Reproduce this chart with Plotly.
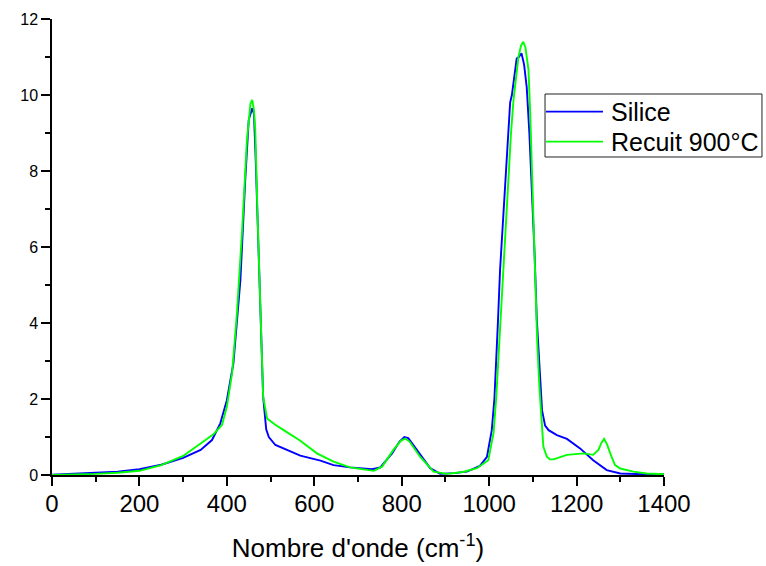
import plotly.graph_objects as go

# Silice (blue)
silice_x = [0, 50, 100, 150, 200, 250, 300, 340, 366, 385, 400, 415, 431, 442, 450, 458, 462,
            466, 470, 477, 483, 490, 496, 511, 568, 614, 644, 682, 732, 751, 778, 795, 806, 815,
            835, 865, 888, 920, 949, 979, 995, 1006, 1012, 1016, 1020, 1025, 1030, 1036, 1041,
            1048, 1052, 1058, 1063, 1068, 1074, 1080, 1086, 1092, 1098, 1104, 1109, 1115, 1121,
            1128, 1136, 1155, 1178, 1208, 1238, 1269, 1300, 1350, 1400]
silice_y = [0.01, 0.03, 0.06, 0.09, 0.15, 0.27, 0.45, 0.66, 0.92, 1.36, 1.97, 2.94, 5.13, 7.76, 9.34, 9.65, 9.5,
            8.3, 6.9, 4.25, 2.06, 1.2, 1.0, 0.79, 0.51, 0.38, 0.26, 0.20, 0.15, 0.20, 0.57, 0.88, 1.0, 0.97,
            0.66, 0.18, 0.03, 0.05, 0.09, 0.24, 0.48, 1.18, 2.0, 2.9, 4.0, 5.4, 6.3, 7.6, 8.5,
            9.8, 10.0, 10.5, 10.96, 11.0, 11.1, 10.8, 10.2, 9.0, 7.5, 5.8, 4.1, 2.8, 1.7,
            1.3, 1.18, 1.05, 0.95, 0.70, 0.39, 0.13, 0.04, 0.02, 0.02]

# Recuit 900°C (green)
recuit_x = [0, 50, 100, 150, 200, 250, 300, 340, 370, 389, 400, 412, 423, 435, 446, 454, 458, 462,
            465, 470, 477, 483, 492, 510, 530, 568, 606, 644, 682, 736, 755, 781, 798, 808, 818,
            842, 873, 903, 940, 972, 998, 1010, 1016, 1021, 1026, 1031, 1037, 1044, 1050, 1056,
            1062, 1067, 1073, 1078, 1083, 1090, 1094, 1098, 1101, 1105, 1110, 1115, 1120, 1124,
            1132, 1139, 1147, 1178, 1216, 1238, 1250, 1257, 1263, 1270, 1277, 1288, 1300, 1330,
            1360, 1400]
recuit_y = [0.0, 0.01, 0.03, 0.06, 0.11, 0.26, 0.5, 0.83, 1.08, 1.32, 1.8, 2.68, 4.25, 6.45, 8.82, 9.77, 9.87, 9.6,
            9.08, 6.9, 4.25, 2.06, 1.49, 1.33, 1.18, 0.90, 0.57, 0.35, 0.20, 0.11, 0.22, 0.66, 0.9, 0.96, 0.88,
            0.48, 0.09, 0.03, 0.08, 0.18, 0.39, 1.1, 2.0, 3.0, 4.2, 5.2, 6.5, 7.9, 9.0, 9.9,
            10.6, 11.0, 11.3, 11.4, 11.25, 10.66, 9.5, 8.0, 6.6, 4.96, 3.5, 2.32, 1.3, 0.75,
            0.48, 0.41, 0.41, 0.53, 0.57, 0.53, 0.66, 0.85, 0.95, 0.8, 0.57, 0.26, 0.17, 0.09,
            0.04, 0.02]

series_names = ["Silice", "Recuit 900°C"]
series_colors = ["#0000FF", "#00FF00"]

x_ticks = [0, 200, 400, 600, 800, 1000, 1200, 1400]
y_ticks = [0, 2, 4, 6, 8, 10, 12]

FONT = "Liberation Sans, Arial, sans-serif"

fig = go.Figure()
for xs, ys, name, color in zip([silice_x, recuit_x], [silice_y, recuit_y], series_names, series_colors):
    fig.add_trace(go.Scatter(x=xs, y=ys, mode="lines", name=name, showlegend=False,
                             line=dict(color=color, width=1.9)))

# Legend box drawn in paper coordinates (Origin-style legend)
fig.add_shape(type="rect", xref="paper", yref="paper",
              x0=0.8056, x1=1.1601, y0=0.6974, y1=0.8355,
              line=dict(color="#222222", width=1), fillcolor="white", layer="above")
row_y = [0.7967, 0.7309]
for ry, name, color in zip(row_y, series_names, series_colors):
    fig.add_shape(type="line", xref="paper", yref="paper",
                  x0=0.8072, x1=0.9003, y0=ry, y1=ry,
                  line=dict(color=color, width=1.8), layer="above")
    fig.add_annotation(xref="paper", yref="paper", x=0.9105, y=ry,
                       xanchor="left", yanchor="middle", showarrow=False,
                       text=name, font=dict(family=FONT, size=25, color="black"))

fig.update_layout(
    width=766, height=566,
    margin=dict(l=52, r=102, t=19, b=91, autoexpand=False),
    paper_bgcolor="white", plot_bgcolor="white",
    font=dict(family=FONT, color="black"),
    showlegend=False,
    xaxis=dict(
        range=[0, 1400], tickvals=x_ticks, ticktext=[str(v) for v in x_ticks],
        showgrid=False, zeroline=False, showline=True, linecolor="black", linewidth=1.5,
        ticks="outside", ticklen=9, tickwidth=1.5, tickcolor="black",
        tickfont=dict(family=FONT, size=24, color="black"),
        ticklabelstandoff=-3,
        minor=dict(dtick=100, tick0=0, ticks="outside", ticklen=5, tickwidth=1.5, tickcolor="black", showgrid=False),
        title=dict(text="Nombre d'onde (cm<sup>-1</sup>)", font=dict(family=FONT, size=26, color="black"), standoff=23),
    ),
    yaxis=dict(
        range=[0, 12], tickvals=y_ticks, ticktext=[str(v) for v in y_ticks],
        showgrid=False, zeroline=False, showline=True, linecolor="black", linewidth=1.5,
        ticks="outside", ticklen=9, tickwidth=1.5, tickcolor="black",
        tickfont=dict(family=FONT, size=16, color="black"),
        minor=dict(dtick=1, tick0=0, ticks="outside", ticklen=5, tickwidth=1.5, tickcolor="black", showgrid=False),
    ),
)

fig.write_html("out.html")
